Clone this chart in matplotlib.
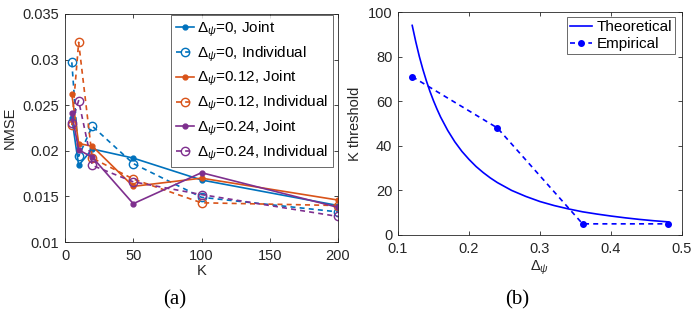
import matplotlib
matplotlib.use("Agg")
import matplotlib.pyplot as plt

plt.rcParams['font.family'] = ['Liberation Sans', 'DejaVu Sans']
plt.rcParams['mathtext.fontset'] = 'custom'
plt.rcParams['mathtext.rm'] = 'Liberation Sans'
plt.rcParams['mathtext.it'] = 'Liberation Sans:italic'
plt.rcParams['mathtext.sf'] = 'Liberation Sans'

# ---- data (a) ----
K = [5, 10, 20, 50, 100, 200]
joint_0 = [0.0236, 0.0184, 0.0202, 0.0192, 0.0168, 0.0140]
indiv_0 = [0.0297, 0.0194, 0.0227, 0.0186, 0.0149, 0.0133]
joint_012 = [0.0262, 0.0208, 0.0205, 0.0161, 0.0170, 0.0146]
indiv_012 = [0.0228, 0.0319, 0.0192, 0.0169, 0.0143, 0.0140]
joint_024 = [0.0241, 0.0201, 0.0193, 0.0142, 0.0176, 0.0138]
indiv_024 = [0.0231, 0.0255, 0.0184, 0.0166, 0.0152, 0.0128]
labels_a = [r'$\Delta_{\psi}$=0, Joint', r'$\Delta_{\psi}$=0, Individual',
            r'$\Delta_{\psi}$=0.12, Joint', r'$\Delta_{\psi}$=0.12, Individual',
            r'$\Delta_{\psi}$=0.24, Joint', r'$\Delta_{\psi}$=0.24, Individual']
yticks_a = [0.01, 0.015, 0.02, 0.025, 0.03, 0.035]
ytick_labels_a = ['0.01', '0.015', '0.02', '0.025', '0.03', '0.035']
xticks_a = [0, 50, 100, 150, 200]

# ---- data (b) ----
theo_x = [0.12, 0.125, 0.13, 0.135, 0.14, 0.145, 0.15, 0.155, 0.16, 0.17, 0.18, 0.19,
          0.20, 0.21, 0.22, 0.23, 0.24, 0.26, 0.28, 0.30, 0.32, 0.34, 0.36, 0.38,
          0.40, 0.42, 0.44, 0.46, 0.48]
theo_y = [94.0, 86.7, 80.1, 74.3, 69.1, 64.4, 60.2, 56.4, 52.9, 46.9, 41.8, 37.5,
          33.9, 30.7, 28.0, 25.6, 23.5, 20.0, 17.3, 15.0, 13.2, 11.7, 10.4, 9.4,
          8.5, 7.7, 7.0, 6.4, 5.9]
emp_x = [0.12, 0.24, 0.36, 0.48]
emp_y = [71, 48, 5, 5]

blue = (0, 0.447, 0.741)
orange = (0.85, 0.325, 0.098)
purple = (0.494, 0.184, 0.556)
axc = (0.15, 0.15, 0.15)
FS = 10.5

W, H = 692, 322
fig = plt.figure(figsize=(W / 100, H / 100), dpi=100)

def style(ax):
    for s in ax.spines.values():
        s.set_color(axc)
        s.set_linewidth(0.6)
    ax.tick_params(direction='in', top=True, right=True, colors=axc,
                   labelsize=FS, length=3, width=0.6, labelcolor=axc)
    ax.tick_params(axis='x', pad=5)
    ax.tick_params(axis='y', pad=4)

ax1 = fig.add_axes([65 / W, 1 - 242 / H, (338 - 65) / W, (242 - 14) / H])
series = [(joint_0, blue, '-', '.'), (indiv_0, blue, '--', 'o'),
          (joint_012, orange, '-', '.'), (indiv_012, orange, '--', 'o'),
          (joint_024, purple, '-', '.'), (indiv_024, purple, '--', 'o')]
for (vals, c, ls, m), lab in zip(series, labels_a):
    if m == '.':
        ax1.plot(K, vals, color=c, ls=ls, marker='o', ms=3.5, fillstyle='full',
                 lw=1.2, label=lab)
    else:
        ax1.plot(K, vals, color=c, ls=ls, marker='o', ms=6, mfc='none', mew=1.0,
                 lw=1.2, label=lab, dashes=(3, 2.5))
ax1.set_xlim(0, 200)
ax1.set_ylim(0.01, 0.035)
ax1.set_xticks(xticks_a)
ax1.set_yticks(yticks_a)
ax1.set_yticklabels(ytick_labels_a)
ax1.set_xlabel('K', fontsize=FS, color=axc, labelpad=1)
ax1.set_ylabel('NMSE', fontsize=FS, color=axc, labelpad=4)
style(ax1)
leg1 = ax1.legend(loc='upper right', bbox_to_anchor=(333 / W, 1 - 15 / H),
                  bbox_transform=fig.transFigure, borderaxespad=0,
                  fontsize=11, frameon=True, fancybox=False,
                  handlelength=1.15, handletextpad=0.25, borderpad=0.3,
                  labelspacing=0.36)
leg1.get_frame().set_edgecolor(axc)
leg1.get_frame().set_linewidth(0.6)

ax2 = fig.add_axes([398 / W, 1 - 235 / H, (682 - 398) / W, (235 - 12) / H])
ax2.plot(theo_x, theo_y, color='b', lw=1.2, label='Theoretical')
ax2.plot(emp_x, emp_y, color='b', ls='--', marker='o', ms=4, lw=1.2,
         label='Empirical', dashes=(3, 2.5))
ax2.set_xlim(0.1, 0.5)
ax2.set_ylim(0, 100)
ax2.set_xticks([0.1, 0.2, 0.3, 0.4, 0.5])
ax2.set_xticklabels(['0.1', '0.2', '0.3', '0.4', '0.5'])
ax2.set_yticks([0, 20, 40, 60, 80, 100])
ax2.set_xlabel(r'$\Delta_{\psi}$', fontsize=FS, color=axc, labelpad=2)
ax2.set_ylabel('K threshold', fontsize=FS, color=axc, labelpad=4)
style(ax2)
leg2 = ax2.legend(loc='upper right', bbox_to_anchor=(675 / W, 1 - 17 / H),
                  bbox_transform=fig.transFigure, borderaxespad=0,
                  fontsize=11, frameon=True, fancybox=False,
                  handlelength=1.4, handletextpad=0.3, borderpad=0.2,
                  labelspacing=0.2)
leg2.get_frame().set_edgecolor(axc)
leg2.get_frame().set_linewidth(0.6)

fig.text(175 / W, 1 - 300 / H, '(a)', fontsize=15, family='Liberation Serif',
         ha='center', va='center')
fig.text(517 / W, 1 - 300 / H, '(b)', fontsize=15, family='Liberation Serif',
         ha='center', va='center')

fig.savefig('out.png', dpi=100)
